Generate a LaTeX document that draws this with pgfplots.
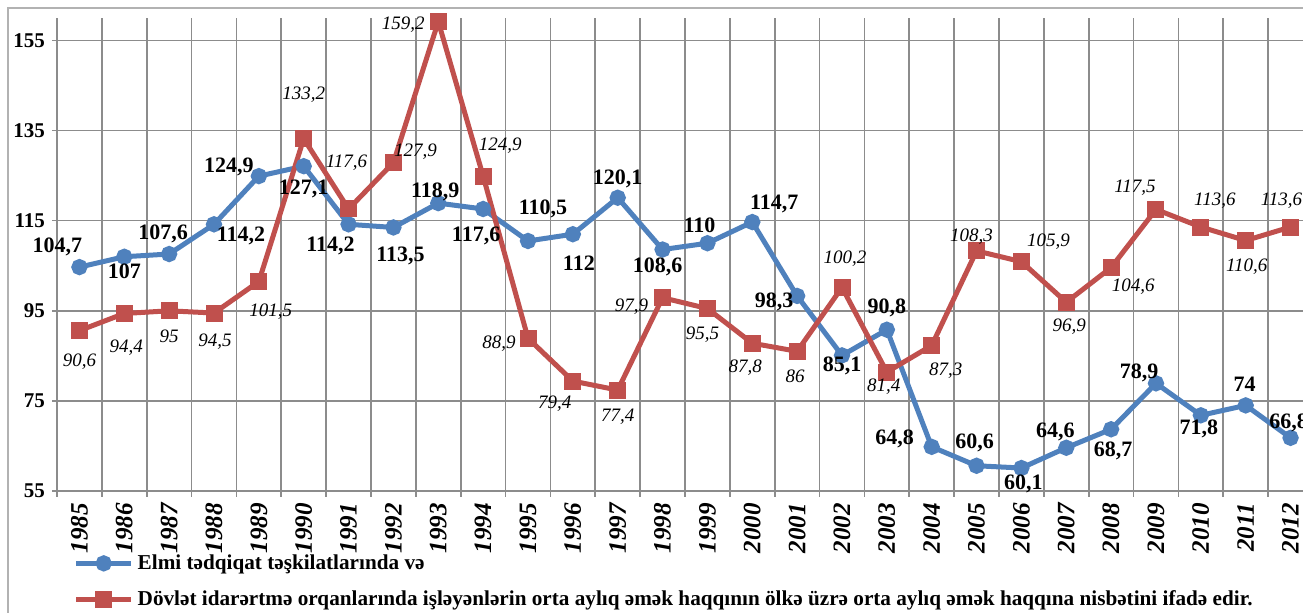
\documentclass[border=0pt]{standalone}
\usepackage{pgfplots}
\usepackage{pgfplotstable}
\pgfplotsset{compat=1.18}
\usepackage{fontspec}
\setmainfont{Liberation Serif}

\definecolor{serblue}{HTML}{4F81BD}
\definecolor{serred}{HTML}{C0504D}
\definecolor{gridgray}{HTML}{8C8C8C}

% x y label, then label offset in px (dx right, dy down)
\pgfplotstableread{
x    y     lab    dx   dy
1985 104.7 104,7  -22  -20
1986 107   107      0   15
1987 107.6 107,6   -6  -20
1988 114.2 114,2   27   12
1989 124.9 124,9  -30   -9
1990 127.1 127,1    0   23
1991 114.2 114,2  -18   22
1992 113.5 113,5    7   28
1993 118.9 118,9   -3  -11
1994 117.6 117,6   -7   27
1995 110.5 110,5   15  -32
1996 112   112      6   29
1997 120.1 120,1    0  -19
1998 108.6 108,6   -5   17
1999 110   110     -8  -18
2000 114.7 114,7   22  -18
2001 98.3  98,3   -23    6
2002 85.1  85,1     0   10
2003 90.8  90,8     0  -22
2004 64.8  64,8   -37   -8
2005 60.6  60,6    -2  -23
2006 60.1  60,1     2   16
2007 64.6  64,6   -11  -16
2008 68.7  68,7     2   22
2009 78.9  78,9   -17  -10
2010 71.8  71,8    -2   14
2011 74    74      -1  -21
2012 66.8  66,8    -2  -15
}\elmi

\pgfplotstableread{
x    y     lab    dx   dy
1985 90.6  90,6     0   31
1986 94.4  94,4     2   34
1987 95    95       0   26
1988 94.5  94,5     1   29
1989 101.5 101,5   12   30
1990 133.2 133,2    0  -44
1991 117.6 117,6   -2  -46
1992 127.9 127,9   22  -11
1993 159.2 159,2  -35    3
1994 124.9 124,9   17  -30
1995 88.9  88,9   -29    5
1996 79.4  79,4   -18   23
1997 77.4  77,4     0   27
1998 97.9  97,9   -31    9
1999 95.5  95,5    -5   26
2000 87.8  87,8    -7   24
2001 86    86      -2   25
2002 100.2 100,2    3  -29
2003 81.4  81,4    -3   15
2004 87.3  87,3    14   25
2005 108.3 108,3   -5  -14
2006 105.9 105,9   27  -20
2007 96.9  96,9     3   24
2008 104.6 104,6   22   19
2009 117.5 117,5  -21  -22
2010 113.6 113,6   14  -26
2011 110.6 110,6    1   26
2012 113.6 113,6   -9  -26
}\dovlet

\begin{document}
\begin{tikzpicture}
\draw[gray!60, line width=0.8pt] (4pt,-20pt) -- (4pt,302.5pt) -- (700pt,302.5pt);
\begin{axis}[
    at={(28.5pt,61pt)}, anchor=south west,
    scale only axis,
    width=628pt, height=236.5pt,
    xmin=1984.5, xmax=2012.5,
    ymin=55, ymax=160,
    axis x line*=bottom, axis y line*=left,
    axis line style={gridgray, line width=0.8pt},
    xtick={1985,...,2012},
    xticklabels={1985,1986,1987,1988,1989,1990,1991,1992,1993,1994,1995,1996,1997,1998,1999,2000,2001,2002,2003,2004,2005,2006,2007,2008,2009,2010,2011,2012},
    minor xtick={1984.5,1985.5,...,2012.5},
    ytick={55,75,...,155},
    tick align=outside,
    major x tick style={draw=none},
    minor tick length=3pt,
    major tick length=2.5pt,
    tick style={gridgray, line width=0.8pt},
    xmajorgrids=false, xminorgrids=true, ymajorgrids=true,
    minor grid style={gridgray, line width=0.8pt},
    major grid style={gridgray, line width=0.8pt},
    /pgf/number format/assume math mode=true,
    xticklabel style={rotate=90, anchor=east, font=\bfseries\itshape\fontsize{12.5}{12.5}\selectfont},
    yticklabel style={font=\bfseries\fontsize{10.5}{10.5}\selectfont},
    legend style={at={(0.013,-0.125)}, anchor=north west, draw=none, fill=none,
        font=\bfseries\fontsize{10.6}{10.6}\selectfont, row sep=5pt, inner sep=0pt},
    legend cell align=left,
    legend image code/.code={\draw[mark repeat=2,mark phase=2,#1] plot coordinates {(0pt,0pt) (13.75pt,0pt) (27.5pt,0pt)};},
]
\addplot[serblue, line width=2.5pt, mark=*, mark size=2.8pt, mark options={solid}]
    table[x=x, y=y] {\elmi};
\addlegendentry{Elmi tədqiqat təşkilatlarında və}
\addplot[serred, line width=2.5pt, mark=square*, mark size=3pt, mark options={solid}]
    table[x=x, y=y] {\dovlet};
\addlegendentry{Dövlət idarərtmə orqanlarında işləyənlərin orta aylıq əmək haqqının ölkə üzrə orta aylıq əmək haqqına nisbətini ifadə edir.}

% data labels, drawn above both lines
\addplot[forget plot, draw=none, mark=none,
    point meta=explicit symbolic,
    visualization depends on={\thisrow{dx} \as \dx},
    visualization depends on={\thisrow{dy} \as \dy},
    nodes near coords,
    every node near coord/.append style={anchor=center, text=black, inner sep=0pt,
        xshift={0.5pt*\dx}, yshift={-0.5pt*\dy},
        font=\bfseries\fontsize{11}{11}\selectfont}]
    table[x=x, y=y, meta=lab] {\elmi};
\addplot[forget plot, draw=none, mark=none,
    point meta=explicit symbolic,
    visualization depends on={\thisrow{dx} \as \dx},
    visualization depends on={\thisrow{dy} \as \dy},
    nodes near coords,
    every node near coord/.append style={anchor=center, text=black, inner sep=0pt,
        xshift={0.5pt*\dx}, yshift={-0.5pt*\dy},
        font=\itshape\fontsize{9.5}{9.5}\selectfont}]
    table[x=x, y=y, meta=lab] {\dovlet};
\end{axis}
\pgfresetboundingbox
\useasboundingbox (0,0) rectangle (651.5pt,306.5pt);
\end{tikzpicture}
\end{document}
